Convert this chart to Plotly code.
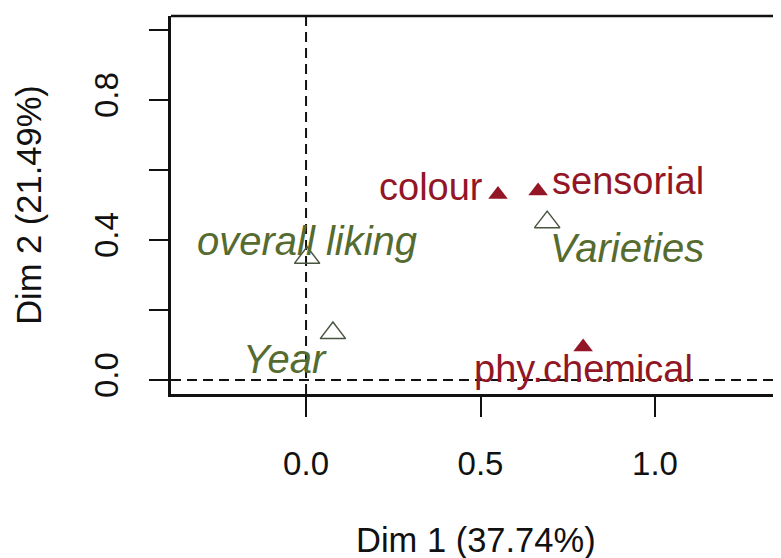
import plotly.graph_objects as go

# Data
active_groups = ["colour", "sensorial", "phy.chemical"]
active_dim1 = [0.550, 0.665, 0.794]
active_dim2 = [0.530, 0.540, 0.094]

suppl_groups = ["Varieties", "overall liking", "Year"]
suppl_dim1 = [0.691, 0.003, 0.077]
suppl_dim2 = [0.451, 0.349, 0.134]

x_title = "Dim 1 (37.74%)"
y_title = "Dim 2 (21.49%)"
x_ticks = [0.0, 0.5, 1.0]
x_ticktext = ["0.0", "0.5", "1.0"]
y_ticks = [0.0, 0.2, 0.4, 0.6, 0.8, 1.0]
y_ticktext = ["0.0", "", "0.4", "", "0.8", ""]

RED = "#921626"
GREEN = "#556B2F"
FONT = "Liberation Sans, Arial, sans-serif"

fig = go.Figure()

fig.add_trace(go.Scatter(
    x=active_dim1, y=active_dim2, mode="markers",
    marker=dict(symbol="triangle-up", size=17, color=RED, line=dict(width=0)),
    hoverinfo="skip", showlegend=False))

fig.add_trace(go.Scatter(
    x=suppl_dim1, y=suppl_dim2, mode="markers",
    marker=dict(symbol="triangle-up-open", size=22, color="#4a5540",
                line=dict(width=1.5, color="#4a5540")),
    hoverinfo="skip", showlegend=False))

# label placement styles (anchor + pixel shifts)
active_style = [
    dict(xanchor="right", yanchor="middle", xshift=-13, yshift=8),
    dict(xanchor="left", yanchor="middle", xshift=12, yshift=10),
    dict(xanchor="center", yanchor="middle", xshift=0, yshift=-22),
]
suppl_style = [
    dict(xanchor="left", yanchor="middle", xshift=1, yshift=-26),
    dict(xanchor="center", yanchor="middle", xshift=0, yshift=17),
    dict(xanchor="right", yanchor="middle", xshift=-4, yshift=-26),
]

annotations = []
for name, x, y, st in zip(active_groups, active_dim1, active_dim2, active_style):
    annotations.append(dict(x=x, y=y, xref="x", yref="y", text=name, showarrow=False,
                            font=dict(family=FONT, size=38, color=RED), **st))
for name, x, y, st in zip(suppl_groups, suppl_dim1, suppl_dim2, suppl_style):
    annotations.append(dict(x=x, y=y, xref="x", yref="y", text="<i>" + name + "</i>",
                            showarrow=False,
                            font=dict(family=FONT, size=40, color=GREEN), **st))

# x axis title
annotations.append(dict(x=0.5, y=-0.386, xref="x domain", yref="paper",
                        text=x_title, showarrow=False, xanchor="center", yanchor="middle",
                        font=dict(family=FONT, size=34.5, color="#111111")))

shapes = [
    # dashed reference lines through the origin
    dict(type="line", xref="x", yref="paper", x0=0, x1=0, y0=0, y1=1,
         line=dict(color="#111111", width=2, dash="10px,6px"), layer="below"),
    dict(type="line", xref="paper", yref="y", x0=0, x1=1, y0=0, y1=0,
         line=dict(color="#111111", width=2, dash="10px,6px"), layer="below"),
    # top border (right side is cut off by the image edge)
    dict(type="line", xref="paper", yref="paper", x0=0, x1=1, y0=1, y1=1,
         line=dict(color="#111111", width=2.5)),
]

# page body has an 8px margin: size the figure to fill the rest of the window
fig.update_layout(
    width=773, height=550,
    margin=dict(l=163, r=0, t=8, b=164),
    paper_bgcolor="white", plot_bgcolor="white",
    annotations=annotations, shapes=shapes,
    xaxis=dict(range=[-0.387, 1.361], tickvals=x_ticks, ticktext=x_ticktext,
               showgrid=False, zeroline=False, showline=True, linecolor="#111111",
               linewidth=2.5, ticks="outside", ticklen=20, tickwidth=2, tickcolor="#111111",
               ticklabelstandoff=19,
               tickfont=dict(family=FONT, size=33, color="#111111")),
    yaxis=dict(range=[-0.04, 1.04], tickvals=y_ticks, ticktext=y_ticktext,
               showgrid=False, zeroline=False, showline=True, linecolor="#111111",
               linewidth=2.5, ticks="outside", ticklen=19, tickwidth=2, tickcolor="#111111",
               tickangle=-90, ticklabelstandoff=18,
               title=dict(text=y_title, standoff=36,
                          font=dict(family=FONT, size=34.5, color="#111111")),
               tickfont=dict(family=FONT, size=33, color="#111111")),
)

fig.write_html("out.html")
